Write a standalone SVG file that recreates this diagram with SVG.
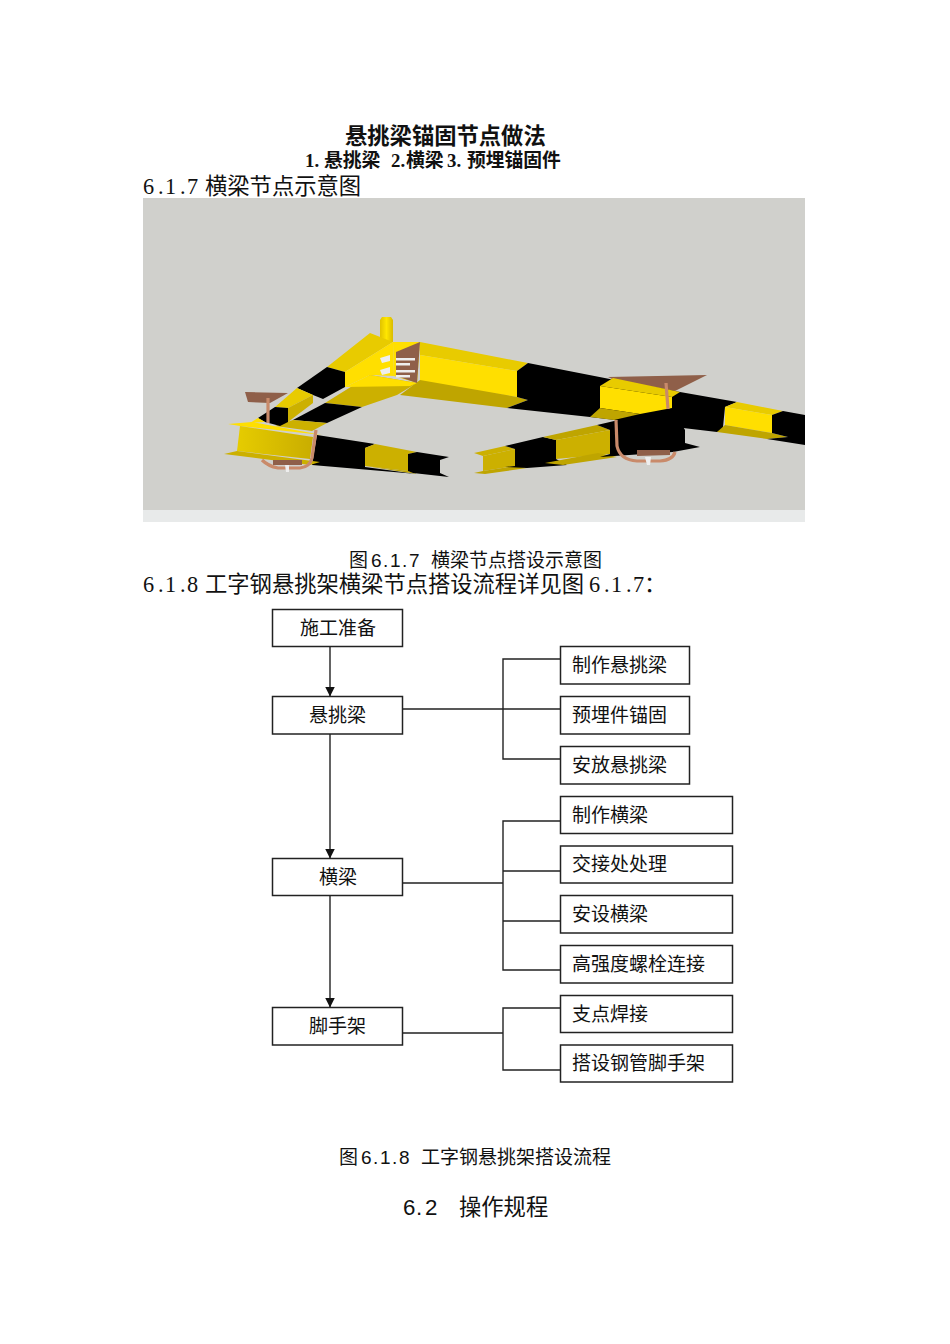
<svg xmlns="http://www.w3.org/2000/svg" width="950" height="1344" viewBox="0 0 950 1344">
<style>
text{fill:#111;font-family:"Liberation Serif","Noto Sans CJK SC",serif}
.t{font-size:22.300px;font-weight:700}
.s{font-size:18.800px;font-weight:700}
.h{font-size:22.300px}
.c{font-size:19px;font-family:"Liberation Sans","Noto Sans CJK SC",sans-serif}
.g{font-size:22.300px;font-family:"Liberation Sans","Noto Sans CJK SC",sans-serif}
.b{fill:#fff;stroke:#222;stroke-width:1.500}
.l{font-size:19px}
.k{fill:none;stroke:#222;stroke-width:1.400}
.y{fill:#ffdf00}.e{fill:#e8cb00}.d{fill:#ccb000}.o{fill:#bfa500}.f{fill:#000}.p{fill:#8f5f48}.r{fill:none;stroke:#c98a6a;stroke-width:3.200}.w{fill:#eee}
</style>
<defs>
<marker id="a" markerWidth="10" markerHeight="10" refX="9.500" refY="5" orient="auto" markerUnits="userSpaceOnUse"><path d="M0 0L10 5L0 10z" fill="#111"/></marker>
<filter id="soft" x="0" y="0" width="1" height="1"><feGaussianBlur stdDeviation="0.450"/></filter>
<linearGradient id="front" x1="0" y1="0" x2="1" y2="0"><stop offset="0" stop-color="#e6cc00"/><stop offset="1" stop-color="#c9ad00"/></linearGradient>
<linearGradient id="pipe" x1="0" y1="0" x2="1" y2="0"><stop offset="0" stop-color="#e0c200"/><stop offset="0.500" stop-color="#ffe600"/><stop offset="1" stop-color="#d9bb00"/></linearGradient>
</defs>
<rect width="950" height="1344" fill="#fff"/>
<text class="t" x="345" y="144">悬挑梁锚固节点做法</text>
<text class="s" y="167"><tspan x="305">1.</tspan><tspan x="324">悬挑梁</tspan><tspan x="391">2.</tspan><tspan x="406">横梁</tspan><tspan x="447">3.</tspan><tspan x="467">预埋锚固件</tspan></text>
<text class="h" y="194"><tspan x="143">6</tspan><tspan x="158">.</tspan><tspan x="165">1</tspan><tspan x="180">.</tspan><tspan x="187">7</tspan><tspan x="205">横梁节点示意图</tspan></text>
<g id="scene">
<rect x="143" y="198" width="662" height="312" fill="#d0d0cc"/>
<rect x="143" y="510" width="662" height="12" fill="#e8eaea"/>
<g filter="url(#soft)">
<polygon class="p" points="608,377 707,375 673,392 640,392"/>
<polygon class="e" points="420,342 528,363 517,371 420,355"/>
<polygon class="y" points="420,355 517,371 517,397 420,382"/>
<polygon class="o" points="400,395 420,380 517,397 528,400 507,408"/>
<polygon class="f" points="528,363 620,381 680,392 737,402 725,407 723,427 738,428 717,432 590,417 507,408 528,400 517,397 517,371"/>
<polygon class="e" points="613,378 680,392 672,397 600,386"/>
<polygon class="y" points="600,386 672,397 672,408 640,414 600,408"/>
<polygon class="o" points="590,417 600,408 640,414 614,420"/>
<polygon class="e" points="737,402 783,411 772,415 725,407"/>
<polygon class="y" points="725,407 772,415 772,433 725,425"/>
<polygon class="o" points="717,432 725,425 772,433 788,437 767,439"/>
<polygon class="f" points="783,411 805,415 805,445 767,439 788,437 772,433 772,415"/>
<polyline class="r" points="666,383 668,409"/>
<polygon class="d" points="474,453 505,446 515,449 483,456"/>
<polygon class="d" points="483,456 515,449 515,466 483,471"/>
<polygon class="o" points="474,473 483,471 515,466 527,468 485,474"/>
<polygon class="f" points="505,446 543,437 556,440 556,459 567,465 527,468 505,467 515,466 515,449"/>
<polygon class="o" points="543,437 597,425 610,430 556,440"/>
<polygon class="d" points="556,440 610,430 610,454 556,459"/>
<polygon class="o" points="545,463 598,453 617,457 563,465"/>
<polygon class="f" points="597,425 640,415 673,410 685,430 685,443 700,447 673,452 600,457 610,454 610,430"/>
<polygon class="p" points="637,450 670,450 670,455 637,456"/>
<path class="r" d="M616 420L617 446Q620 460 637 461L660 461Q673 460 675 452"/>
<polygon class="w" points="645,457 651,457 650,465 647,465"/>
<polygon class="f" points="317,435 375,444 365,448 365,467 417,474 312,465"/>
<polygon class="d" points="375,444 417,452 408,454 408,471 365,466 365,448"/>
<polygon class="o" points="365,466 408,471 417,474"/>
<polygon class="f" points="417,452 449,457 440,460 440,473 449,477 413,473 408,471 408,454"/>
<polygon class="p" points="245,392 288,393 270,403 248,402"/>
<polygon class="d" points="370,375 417,383 397,395 362,407 325,403"/>
<polygon class="y" points="370,375 417,383 410,386 345,387"/>
<polygon class="f" points="325,403 362,407 327,423 293,420"/>
<polygon class="d" points="293,420 327,423 312,431 275,426"/>
<polygon fill="url(#pipe)" points="380,320 382,317 391,317 393,320 393,342 380,342"/>
<polygon class="e" points="370,333 393,342 345,372 327,367"/>
<polygon class="y" points="393,342 394,376 370,375 345,387 345,372"/>
<polygon class="f" points="327,367 345,372 345,387 323,399 313,395 297,388"/>
<polygon class="e" points="297,388 313,395 288,408 275,407"/>
<polygon class="d" points="313,395 313,403 288,422 288,408"/>
<polygon class="f" points="275,407 288,408 288,422 280,426 265,422 258,418"/>
<polygon class="y" points="258,418 265,422 250,423"/>
<polygon class="y" points="393,342 420,342 417,383 394,376"/>
<polygon class="p" points="396,352 420,342 417,383 396,376"/>
<rect x="396" y="358" width="19" height="2.500" class="w"/><rect x="396" y="363" width="14" height="2.500" class="w"/>
<rect x="396" y="370" width="19" height="2.500" class="w"/><rect x="396" y="375" width="14" height="2.500" class="w"/>
<polygon class="w" points="380,358 390,355 390,361 382,363"/><polygon class="w" points="380,370 390,367 390,373 382,375"/>
<polygon class="y" points="228,424 252,422 322,435 240,426"/>
<polygon fill="url(#front)" points="240,426 313,437 310,459 237,451"/>
<polygon class="d" points="224,454 237,451 320,462 310,465"/>
<polyline class="r" points="268,398 268,423"/>
<path class="r" d="M316 430L312 458Q310 467 300 468L278 468Q268 466 262 460"/>
<polygon class="p" points="273,460 302,460 302,465 273,465"/>
<polygon class="w" points="285,465 289,465 289,472 286,472"/>
</g>
</g>
<text class="c" y="567"><tspan x="349">图</tspan><tspan x="371">6</tspan><tspan x="383">.</tspan><tspan x="390">1</tspan><tspan x="402">.</tspan><tspan x="409">7</tspan><tspan x="431">横梁节点搭设示意图</tspan></text>
<text class="h" y="592"><tspan x="143">6</tspan><tspan x="158">.</tspan><tspan x="165">1</tspan><tspan x="180">.</tspan><tspan x="187">8</tspan><tspan x="205">工字钢悬挑架横梁节点搭设流程详见图</tspan><tspan x="589">6</tspan><tspan x="604">.</tspan><tspan x="611">1</tspan><tspan x="626">.</tspan><tspan x="633">7</tspan><tspan x="644">：</tspan></text>
<g id="connectors">
<line class="k" x1="330" y1="646" x2="330" y2="696" marker-end="url(#a)"/>
<line class="k" x1="330" y1="734" x2="330" y2="858" marker-end="url(#a)"/>
<line class="k" x1="330" y1="896" x2="330" y2="1007" marker-end="url(#a)"/>
<path class="k" d="M402 709H560M560 659H503V759H560"/>
<path class="k" d="M402 883H503M560 821H503V970H560M503 871H560M503 921H560"/>
<path class="k" d="M402 1033H503M560 1008H503V1070H560"/>
</g>
<g id="n1"><rect class="b" x="272.500" y="609.500" width="130" height="37"/><text class="l" x="300" y="635">施工准备</text></g>
<g id="n2"><rect class="b" x="272.500" y="696.500" width="130" height="37.500"/><text class="l" x="309" y="722">悬挑梁</text></g>
<g id="n3"><rect class="b" x="272.500" y="858.500" width="130" height="37"/><text class="l" x="319" y="884">横梁</text></g>
<g id="n4"><rect class="b" x="272.500" y="1007.500" width="130" height="37.500"/><text class="l" x="309" y="1033">脚手架</text></g>
<g id="r1"><rect class="b" x="560.500" y="646.500" width="129" height="37.500"/><text class="l" x="572" y="672">制作悬挑梁</text></g>
<g id="r2"><rect class="b" x="560.500" y="696.500" width="129" height="37.500"/><text class="l" x="572" y="722">预埋件锚固</text></g>
<g id="r3"><rect class="b" x="560.500" y="746.500" width="129" height="37.500"/><text class="l" x="572" y="772">安放悬挑梁</text></g>
<g id="r4"><rect class="b" x="560.500" y="796.500" width="172" height="37"/><text class="l" x="572" y="822">制作横梁</text></g>
<g id="r5"><rect class="b" x="560.500" y="846" width="172" height="37"/><text class="l" x="572" y="871">交接处处理</text></g>
<g id="r6"><rect class="b" x="560.500" y="895.500" width="172" height="37.500"/><text class="l" x="572" y="921">安设横梁</text></g>
<g id="r7"><rect class="b" x="560.500" y="945.500" width="172" height="37.500"/><text class="l" x="572" y="971">高强度螺栓连接</text></g>
<g id="r8"><rect class="b" x="560.500" y="995.500" width="172" height="37"/><text class="l" x="572" y="1021">支点焊接</text></g>
<g id="r9"><rect class="b" x="560.500" y="1045" width="172" height="37"/><text class="l" x="572" y="1070">搭设钢管脚手架</text></g>
<text class="c" y="1164"><tspan x="339">图</tspan><tspan x="361">6</tspan><tspan x="373">.</tspan><tspan x="380">1</tspan><tspan x="392">.</tspan><tspan x="399">8</tspan><tspan x="421">工字钢悬挑架搭设流程</tspan></text>
<text class="g" y="1215"><tspan x="403">6</tspan><tspan x="416">.</tspan><tspan x="425">2</tspan><tspan x="459">操作规程</tspan></text>
</svg>
